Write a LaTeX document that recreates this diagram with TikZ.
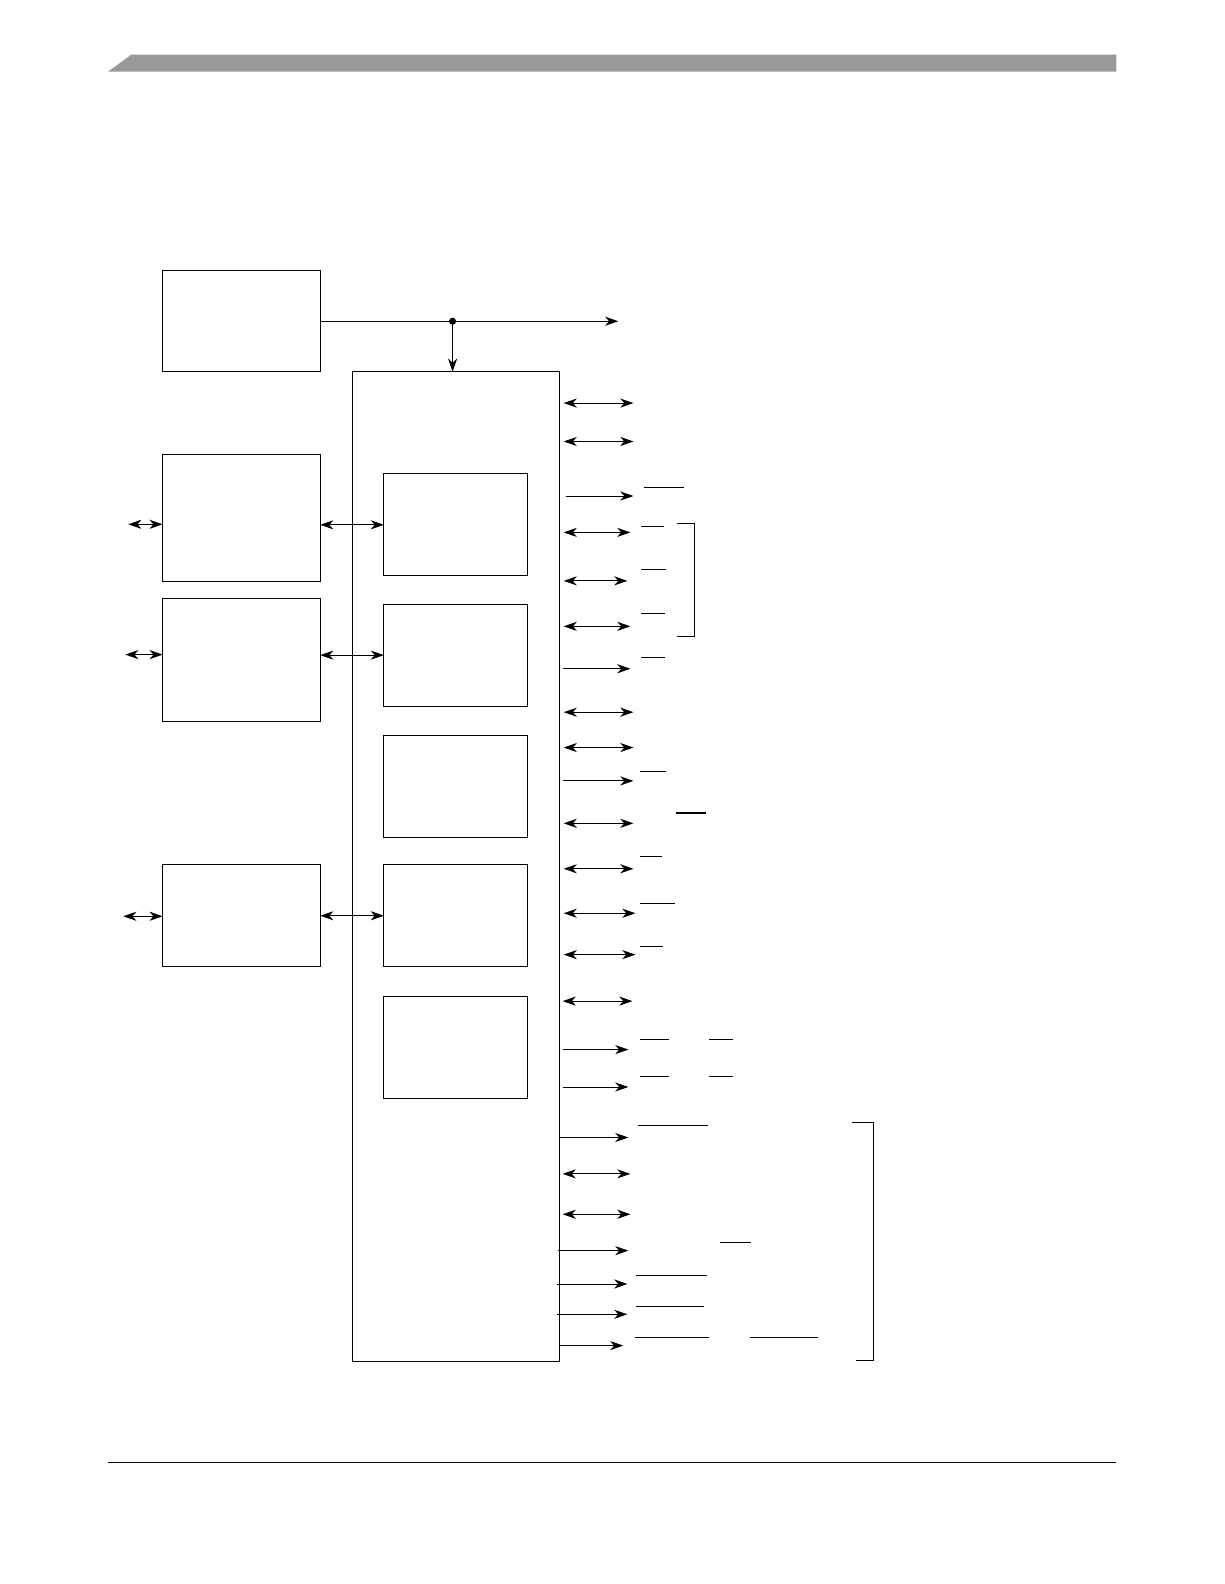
\documentclass[tikz,border=0pt]{standalone}
\usetikzlibrary{arrows.meta}
\definecolor{band}{HTML}{999999}
\tikzset{
  blk/.style={draw, anchor=north west, inner sep=0pt, outer sep=0pt},
  bus/.style={<->},
  sig/.style={->}
}
\begin{document}
\begin{tikzpicture}[x=1pt, y=-1pt, line width=0.9pt, >={Stealth[length=13pt,width=9pt,inset=4pt]}]
	\useasboundingbox (0,0) rectangle (1212,1568);
	% page header and footer
	\fill[band] (107,71) -- (130,54) -- (1105,54) -- (1105,71) -- cycle;
	\draw[line width=1pt] (107,1448) -- (1105,1448);
	
	% outer blocks
	\node[blk, minimum width=156pt, minimum height=100pt] (clk) at (161,268) {};
	\node[blk, minimum width=156pt, minimum height=126pt] (b) at (161,450) {};
	\node[blk, minimum width=156pt, minimum height=122pt] (c) at (161,592) {};
	\node[blk, minimum width=156pt, minimum height=101pt] (d) at (161,856) {};
	\node[blk, minimum width=205pt, minimum height=980pt] (main) at (349,368) {};
	
	% inner blocks
	\node[blk, minimum width=142pt, minimum height=101pt] (i1) at (380,469) {};
	\node[blk, minimum width=142pt, minimum height=101pt] (i2) at (380,598) {};
	\node[blk, minimum width=142pt, minimum height=101pt] (i3) at (380,728) {};
	\node[blk, minimum width=142pt, minimum height=101pt] (i4) at (380,856) {};
	\node[blk, minimum width=142pt, minimum height=101pt] (i5) at (380,986) {};
	
	% clock line
	\coordinate (out) at (612,318);
	\coordinate (tap) at (448,318);
	\draw[->] (clk.east) -- (out);
	\fill (tap) circle (3.5pt);
	\draw[->] (tap) -- (tap |- main.north);
	
	% links to inner blocks
	\draw[bus] (i1.west -| b.east) -- (i1.west);
	\draw[bus] (i2.west -| c.east) -- (i2.west);
	\draw[bus] (i4.west -| d.east) -- (i4.west);
	\coordinate (bx) at (127,519);
	\coordinate (cx) at (124,648);
	\coordinate (dx) at (122,907);
	\draw[bus] (bx) -- (bx -| b.west);
	\draw[bus] (cx) -- (cx -| c.west);
	\draw[bus] (dx) -- (dx -| d.west);
	
	% signals on the right
	\foreach \y/\a/\b/\k in {399/4/627/bus, 437/4/627/bus, 491/6/627/sig, 527/4/624/bus,
		575/4/621/bus, 620/4/624/bus, 662/3/624/sig, 705/4/627/bus, 740/4/627/bus,
		773/3/627/sig, 815/4/627/bus, 860/4/627/bus, 904/4/629/bus, 945/4/629/bus,
		991/3/626/bus, 1039/3/622/sig, 1076/3/622/sig, 1126/0/622/sig, 1162/3/624/bus,
		1202/3/624/bus, 1238/-2/622/sig, 1271/-3/621/sig, 1301/-3/621/sig, 1332/-1/617/sig}
		\draw[\k] (main.north east) ++(\a,\y-368) -- (\b,\y);
	
	% overbars
	\foreach \y/\a/\b in {483/637/677, 521/635/657, 564/635/659, 607/635/658, 651/635/658,
		764/634/659, 848/634/655, 894/634/668, 1066/634/662, 1066/702/726, 1114/632/701,
		1230/713/743, 1263/630/700, 1293/630/697, 1324/629/702, 1324/742/810}
		\draw (\a,\y) -- (\b,\y);
	\foreach \y/\a/\b in {805/669/699, 937/634/656, 1029/634/662, 1029/702/726}
		\draw[line width=1.8pt] (\a,\y) -- (\b,\y);
	
	% brackets
	\draw (670,518) -- (687,518) -- (687,630) -- (670,630);
	\draw (843,1111) -- (865,1111) -- (865,1347) -- (847,1347);
\end{tikzpicture}
\end{document}
